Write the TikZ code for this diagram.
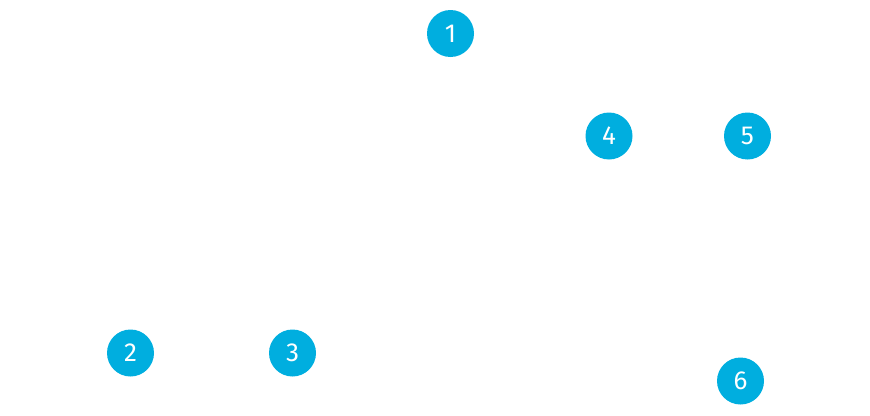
\documentclass[tikz,border=0pt]{standalone}
\usepackage{fontspec}
\setmainfont{Fira Sans}
\usepackage{tikz}
\definecolor{markblue}{HTML}{00AEDF}
\tikzset{marker/.style={circle, fill=markblue, text=white, minimum size=47pt, inner sep=0,
  font=\fontsize{26}{26}\selectfont}}

\begin{document}
\begin{tikzpicture}[x=1pt, y=-1pt]
        \useasboundingbox (0,0) rectangle (870,415);
        \node[marker] (one) at (450.5,33.5) {1};
        \node[marker] (two) at (130.5,353) {2};
        \node[marker] (three) at (292.5,353) {3};
        \node[marker] (four) at (609,136) {4};
        \node[marker] (five) at (747.5,136) {5};
        \node[marker] (six) at (740.5,381) {6};
    \end{tikzpicture}
\end{document}
